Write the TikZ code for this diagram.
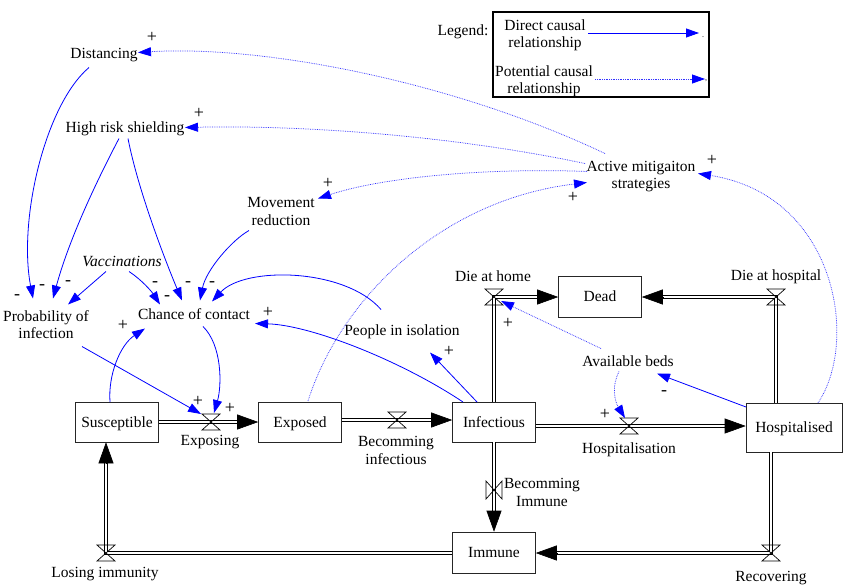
\documentclass[tikz,border=0pt]{standalone}
\usepackage{fontspec}
\setmainfont{Liberation Serif}
\usetikzlibrary{arrows.meta,calc}

\tikzset{
  lbl/.style={font=\fontsize{15.5}{17.5}\selectfont, inner sep=1pt, align=center, yshift=-1.5pt},
  sgn/.style={font=\fontsize{18}{18}\selectfont, inner sep=0pt},
  stock/.style={draw=black!85, line width=0.6pt, fill=white, minimum width=83pt,
    minimum height=40pt, inner sep=0pt, text height=13.5pt, text depth=3.5pt,
    font=\fontsize{15.5}{17.5}\selectfont},
  pipe/.style={draw=black, line width=0.6pt, double=white, double distance=2.4pt},
  flowtip/.style={-{Triangle[length=21pt,width=15pt]}, line width=0.6pt},
  cause/.style={blue, line width=0.8pt, -{Triangle[length=13pt,width=9pt]}},
  maybe/.style={blue!80, line width=0.75pt, densely dotted,
    -{Triangle[length=13pt,width=9pt,color=blue]}},
  valve/.pic={\draw[black, line width=0.7pt]
    (-9,-8) -- (9,-8) -- (-9,8) -- (9,8) -- cycle;}
}

\begin{document}
\begin{tikzpicture}[x=1pt,y=-1pt]
\useasboundingbox (0,0) rectangle (843,587);

% ---------- stocks ----------
\node[stock] (S)    at (117,422) {Susceptible};
\node[stock] (E)    at (300,422) {Exposed};
\node[stock] (I)    at (494,422) {Infectious};
\node[stock, minimum width=96pt, minimum height=49pt] (H) at (794,427.5) {Hospitalised};
\node[stock, minimum height=41pt] (Dead) at (600,296.5) {Dead};
\node[stock, minimum height=41pt] (Imm)  at (494,552.5) {Immune};

% ---------- valves ----------
\coordinate (vExp)     at (211,422);
\coordinate (vBInf)    at (397,420);
\coordinate (vHosp)    at (629,426);
\coordinate (vDieHome) at (494,297);
\coordinate (vDieHosp) at (776,297);
\coordinate (vBImm)    at (494,490);
\coordinate (vRec)     at (771,553);
\coordinate (vLose)    at (106,553);

% ---------- flows ----------
\draw[pipe, shorten >=20pt] (S.east) -- (E.west);
\draw[flowtip] ([xshift=-21pt]E.west) -- (E.west);

\coordinate (eOut) at (E.east |- vBInf);
\coordinate (iIn)  at (I.west |- vBInf);
\draw[pipe, shorten >=20pt] (eOut) -- (iIn);
\draw[flowtip] ([xshift=-21pt]iIn) -- (iIn);

\coordinate (iOutH) at (I.east |- vHosp);
\coordinate (hIn)   at (H.west |- vHosp);
\draw[pipe, shorten >=20pt] (iOutH) -- (hIn);
\draw[flowtip] ([xshift=-21pt]hIn) -- (hIn);

\coordinate (dIn1) at (Dead.west |- vDieHome);
\draw[pipe, shorten >=20pt] (I.north) -- (vDieHome) -- (dIn1);
\draw[flowtip] ([xshift=-21pt]dIn1) -- (dIn1);

\coordinate (hOut1) at (H.north -| vDieHosp);
\coordinate (dIn2)  at (Dead.east |- vDieHosp);
\draw[pipe, shorten >=20pt] (hOut1) -- (vDieHosp) -- (dIn2);
\draw[flowtip] ([xshift=21pt]dIn2) -- (dIn2);

\draw[pipe, shorten >=20pt] (I.south) -- (Imm.north);
\draw[flowtip] ([yshift=21pt]Imm.north) -- (Imm.north);

\coordinate (hOut2) at (H.south -| vRec);
\coordinate (mIn)   at (Imm.east |- vRec);
\draw[pipe, shorten >=20pt] (hOut2) -- (vRec) -- (mIn);
\draw[flowtip] ([xshift=21pt]mIn) -- (mIn);

\coordinate (mOut) at (Imm.west |- vLose);
\coordinate (sIn)  at (S.south -| vLose);
\draw[pipe, shorten >=20pt] (mOut) -- (vLose) -- (sIn);
\draw[flowtip] ([yshift=-21pt]sIn) -- (sIn);

\pic at (vExp) {valve};
\pic at (vBInf) {valve};
\pic at (vHosp) {valve};
\pic at (vDieHome) {valve};
\pic at (vDieHosp) {valve};
\pic[rotate=90] at (vBImm) {valve};
\pic at (vRec) {valve};
\pic at (vLose) {valve};

% ---------- flow labels ----------
\node[lbl] (tExp)  at (210,441) {Exposing};
\node[lbl] (tBInf) at (396,449) {Becomming\\infectious};
\node[lbl] (tHosp) at (629,448) {Hospitalisation};
\node[lbl] (tDHm)  at (493,275) {Die at home};
\node[lbl] (tDHp)  at (776,275) {Die at hospital};
\node[lbl] (tBImm) at (542,491) {Becomming\\Immune};
\node[lbl] (tRec)  at (771,577) {Recovering};
\node[lbl] (tLose) at (105,573) {Losing immunity};

% ---------- auxiliary variables ----------
\node[lbl] (Dist) at (104,54)  {Distancing};
\node[lbl] (HRS)  at (125,127) {High risk shielding};
\node[lbl] (Move) at (281,210) {Movement\\reduction};
\node[lbl] (AMS)  at (641,175) {Active mitigaiton\\strategies};
\node[lbl, font=\fontsize{15.5}{17.5}\selectfont\itshape] (Vacc) at (122,260) {Vaccinations};
\node[lbl] (Prob) at (46,323)  {Probability of\\infection};
\node[lbl] (CoC)  at (194,313) {Chance of contact};
\node[lbl] (PiI)  at (402,330) {People in isolation};
\node[lbl] (Beds) at (628,360) {Available beds};

% ---------- direct causal links ----------
\draw[cause] ([shift={(-15,12)}]Dist.center) .. controls (45,105) and (18,220) .. ([shift={(-13,-26)}]Prob.center);
\draw[cause] ([shift={(-6,10)}]HRS.center) .. controls (93,188) and (68,243) .. ([shift={(7,-26)}]Prob.center);
\draw[cause] ([shift={(-16,10)}]Vacc.center) -- ([shift={(22,-20)}]Prob.center);
\draw[cause] ([shift={(7,10)}]Vacc.center) .. controls (142,280) and (152,292) .. ([shift={(-34,-10)}]CoC.center);
\draw[cause] ([shift={(3,10)}]HRS.center) .. controls (138,190) and (165,260) .. ([shift={(-12,-14)}]CoC.center);
\draw[cause] ([shift={(-32,19)}]Move.center) .. controls (232,240) and (206,270) .. ([shift={(6,-14)}]CoC.center);
\draw[cause] ([shift={(-21,-22)}]PiI.center) .. controls (345,268) and (245,266) .. ([shift={(18,-13)}]CoC.center);
\draw[cause] ([shift={(-31,-20)}]I.center) .. controls (400,360) and (310,325) .. ([shift={(61,9)}]CoC.center);
\draw[cause] ([shift={(-17,-20)}]I.center) -- ([shift={(28,21)}]PiI.center);
\draw[cause] ([shift={(9,12)}]CoC.center) .. controls (222,345) and (222,385) .. ([shift={(3,-9)}]vExp);
\draw[cause] ([shift={(36,22)}]Prob.center) -- ([shift={(-10,-8)}]vExp);
\draw[cause] ([shift={(-7,-20)}]S.center) .. controls (108,375) and (120,345) .. ([shift={(-49,14)}]CoC.center);
\draw[cause] ([shift={(-48,-20.5)}]H.center) -- ([shift={(29,12)}]Beds.center);

% ---------- potential causal links ----------
\draw[maybe] ([shift={(-36,-23)}]AMS.center) .. controls (450,80) and (260,45) .. ([shift={(34,-3)}]Dist.center);
\draw[maybe] ([shift={(-56,-13)}]AMS.center) .. controls (450,135) and (300,125) .. ([shift={(60,-1)}]HRS.center);
\draw[maybe] ([shift={(-54,-5)}]AMS.center) .. controls (500,168) and (390,175) .. ([shift={(37,-13)}]Move.center);
\draw[maybe] ([shift={(8,-21)}]E.center) .. controls (340,300) and (440,200) .. ([shift={(-54,6)}]AMS.center);
\draw[maybe] ([shift={(24,-24.5)}]H.center) .. controls (860,340) and (835,195) .. ([shift={(57,-3)}]AMS.center);
\draw[maybe] ([shift={(-27,-13)}]Beds.center) -- ([shift={(7,4)}]vDieHome);
\draw[maybe] ([shift={(-9,10)}]Beds.center) .. controls (612,385) and (614,400) .. ([shift={(-4,-8)}]vHosp);

% ---------- polarities ----------
\node[sgn] (p1)  at (152,37)  {+};
\node[sgn] (p2)  at (199,113) {+};
\node[sgn] (p3)  at (328,183) {+};
\node[sgn] (p4)  at (573,197) {+};
\node[sgn] (p5)  at (712,160) {+};
\node[sgn] (p6)  at (123,325) {+};
\node[sgn] (p7)  at (268,312) {+};
\node[sgn] (p8)  at (449,351) {+};
\node[sgn] (p9)  at (198,401) {+};
\node[sgn] (p10) at (230,408) {+};
\node[sgn] (p11) at (508,323) {+};
\node[sgn] (p12) at (605,414) {+};
\node[sgn] (m1)  at (17,297)  {-};
\node[sgn] (m2)  at (42,287)  {-};
\node[sgn] (m3)  at (68,283)  {-};
\node[sgn] (m4)  at (155,284) {-};
\node[sgn] (m5)  at (167,298) {-};
\node[sgn] (m6)  at (188,284) {-};
\node[sgn] (m7)  at (212,284) {-};
\node[sgn] (m8)  at (664,393) {-};

% ---------- legend ----------
\node[lbl] (legTitle) at (463,30) {Legend:};
\node[draw, line width=1.5pt, minimum width=216pt, minimum height=85pt, inner sep=0pt] (legBox) at (601,54.5) {};
\node[lbl] (legDirect) at (545,34) {Direct causal\\relationship};
\node[lbl] (legPot)    at (544,80) {Potential causal\\relationship};
\coordinate (ld1) at (588,33);
\coordinate (ld2) at (699,33);
\coordinate (lp1) at (595,79);
\coordinate (lp2) at (705,79);
\draw[cause] (ld1) -- (ld2);
\draw[maybe] (lp1) -- (lp2);
\node[sgn, font=\fontsize{8}{8}\selectfont] (legDot) at (703,37) {.};
\node[sgn, font=\fontsize{8}{8}\selectfont] (legComma) at (706,81) {,};
\end{tikzpicture}
\end{document}
